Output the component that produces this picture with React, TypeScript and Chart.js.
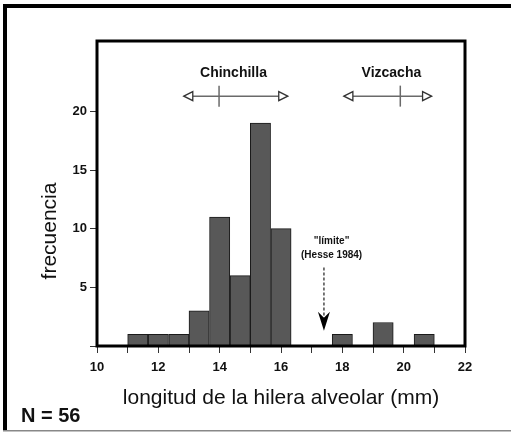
import React, { useEffect, useRef } from "react";
import { Chart, registerables } from "chart.js";

Chart.register(...registerables);

// Histogram bins (bin centres, mm) and counts
const binCenters = [11.33, 12, 12.67, 13.33, 14, 14.67, 15.33, 16, 16.67, 17.33, 18, 18.67, 19.33, 20, 20.67];
const counts = [1, 1, 1, 3, 11, 6, 19, 10, 0, 0, 1, 0, 2, 0, 1];

// Axis ticks
const xTickValues = [10, 11, 12, 13, 14, 15, 16, 17, 18, 19, 20, 21, 22];
const xTickLabels = ["10", "", "12", "", "14", "", "16", "", "18", "", "20", "", "22"];
const yTickValues = [0, 5, 10, 15, 20];
const yTickLabels = ["", "5", "10", "15", "20"];

// Species ranges (annotation)
const rangeLabels = ["Chinchilla", "Vizcacha"];
const rangeLow = [12.83, 18.05];
const rangeMid = [13.98, 19.89];
const rangeHigh = [16.22, 20.91];
const rangeLabelX = [14.45, 19.6];
const rangeLevel = 21.3;
const rangeLabelLevel = 23.3;

// "límite" note
const noteLines = ['"límite"', "(Hesse 1984)"];
const noteX = 17.65;
const noteY = [8.95, 7.75];
const limitX = 17.4;
const limitTop = 6.7;
const limitTip = 1.3;

const xTitle = "longitud de la hilera alveolar (mm)";
const yTitle = "frecuencia";
const nLabel = "N = 56";

const FONT = "'Liberation Sans', Arial, Helvetica, sans-serif";

const decorPlugin = {
  id: "decor",
  beforeDraw(chart: any) {
    const ctx = chart.ctx;
    ctx.save();
    ctx.fillStyle = "#ffffff";
    ctx.fillRect(0, 0, chart.width, chart.height);
    ctx.restore();
  },
  afterDatasetsDraw(chart: any) {
    const ctx = chart.ctx;
    const xs = chart.scales.x;
    const ys = chart.scales.y;
    const a = chart.chartArea;
    ctx.save();

    // plot frame
    ctx.strokeStyle = "#000";
    ctx.lineWidth = 3;
    ctx.strokeRect(a.left, a.top, a.right - a.left, a.bottom - a.top);

    // outer figure frame
    ctx.fillStyle = "#000";
    ctx.fillRect(3, 4, chart.width - 3, 4);
    ctx.fillRect(3, 4, 4, 427);
    ctx.fillStyle = "#888";
    ctx.fillRect(3, 430, chart.width - 3, 1.5);

    // range arrows
    for (let i = 0; i < rangeLabels.length; i++) {
      const y = ys.getPixelForValue(rangeLevel);
      const xl = xs.getPixelForValue(rangeLow[i]);
      const xh = xs.getPixelForValue(rangeHigh[i]);
      const xm = xs.getPixelForValue(rangeMid[i]);
      const ah = 9;
      const hw = 4.5;
      ctx.strokeStyle = "#6a6a6a";
      ctx.lineWidth = 1.5;
      ctx.beginPath();
      ctx.moveTo(xl + ah, y);
      ctx.lineTo(xh - ah, y);
      ctx.stroke();
      ctx.beginPath();
      ctx.moveTo(xm, y - 10.5);
      ctx.lineTo(xm, y + 10.5);
      ctx.stroke();
      ctx.fillStyle = "#fff";
      ctx.strokeStyle = "#333";
      ctx.lineWidth = 1.3;
      ctx.beginPath();
      ctx.moveTo(xl, y);
      ctx.lineTo(xl + ah, y - hw);
      ctx.lineTo(xl + ah, y + hw);
      ctx.closePath();
      ctx.fill();
      ctx.stroke();
      ctx.beginPath();
      ctx.moveTo(xh, y);
      ctx.lineTo(xh - ah, y - hw);
      ctx.lineTo(xh - ah, y + hw);
      ctx.closePath();
      ctx.fill();
      ctx.stroke();

      ctx.fillStyle = "#111";
      ctx.font = `bold 14px ${FONT}`;
      ctx.textAlign = "center";
      ctx.textBaseline = "middle";
      ctx.fillText(rangeLabels[i], xs.getPixelForValue(rangeLabelX[i]), ys.getPixelForValue(rangeLabelLevel));
    }

    // note text
    ctx.fillStyle = "#111";
    ctx.font = `bold 10px ${FONT}`;
    ctx.textAlign = "center";
    ctx.textBaseline = "middle";
    for (let i = 0; i < noteLines.length; i++) {
      ctx.fillText(noteLines[i], xs.getPixelForValue(noteX), ys.getPixelForValue(noteY[i]));
    }

    // dashed limit arrow
    const lx = xs.getPixelForValue(limitX);
    const ly0 = ys.getPixelForValue(limitTop);
    const ly1 = ys.getPixelForValue(limitTip);
    ctx.strokeStyle = "#555";
    ctx.lineWidth = 1.6;
    ctx.setLineDash([3, 2]);
    ctx.beginPath();
    ctx.moveTo(lx, ly0);
    ctx.lineTo(lx, ly1 - 12);
    ctx.stroke();
    ctx.setLineDash([]);
    ctx.fillStyle = "#000";
    ctx.beginPath();
    ctx.moveTo(lx, ly1);
    ctx.lineTo(lx - 6, ly1 - 19);
    ctx.lineTo(lx, ly1 - 13);
    ctx.lineTo(lx + 6, ly1 - 19);
    ctx.closePath();
    ctx.fill();

    // axis titles
    ctx.fillStyle = "#111";
    ctx.font = `21px ${FONT}`;
    ctx.textAlign = "center";
    ctx.textBaseline = "middle";
    ctx.fillText(xTitle, 281, 398);
    ctx.save();
    ctx.translate(50, 231);
    ctx.rotate(-Math.PI / 2);
    ctx.fillText(yTitle, 0, 0);
    ctx.restore();

    // N label
    ctx.font = `bold 20px ${FONT}`;
    ctx.textAlign = "left";
    ctx.fillText(nLabel, 21, 416);

    ctx.restore();
  },
};

export default function App() {
  const ref = useRef<HTMLCanvasElement>(null);
  useEffect(() => {
    if (!ref.current) return;
    const chart = new Chart(ref.current, {
      type: "bar",
      data: {
        datasets: [
          {
            data: binCenters.map((x, i) => ({ x, y: counts[i] })),
            backgroundColor: "#585858",
            borderColor: "#1a1a1a",
            borderWidth: 1,
            barPercentage: 1,
            categoryPercentage: 1,
          },
        ],
      },
      options: {
        animation: false,
        responsive: false,
        maintainAspectRatio: false,
        layout: { padding: { left: 0, top: 41, right: 46, bottom: 0 } },
        plugins: { legend: { display: false }, tooltip: { enabled: false } },
        scales: {
          x: {
            type: "linear",
            min: 10,
            max: 22,
            offset: false,
            afterFit: (s: any) => {
              s.height = 86;
            },
            afterBuildTicks: (s: any) => {
              s.ticks = xTickValues.map((v) => ({ value: v }));
            },
            grid: { drawOnChartArea: false, drawTicks: true, tickLength: 7, tickColor: "#333", offset: false },
            border: { display: false },
            ticks: {
              autoSkip: false,
              maxRotation: 0,
              padding: 7,
              color: "#111",
              font: { family: FONT, size: 13, weight: "bold" },
              callback: (v: any) => {
                const i = xTickValues.indexOf(Number(v));
                return i >= 0 ? xTickLabels[i] : "";
              },
            },
          },
          y: {
            min: 0,
            max: 26,
            afterFit: (s: any) => {
              s.width = 97;
            },
            afterBuildTicks: (s: any) => {
              s.ticks = yTickValues.map((v) => ({ value: v }));
            },
            grid: { drawOnChartArea: false, drawTicks: true, tickLength: 7, tickColor: "#333" },
            border: { display: false },
            ticks: {
              padding: 3,
              color: "#111",
              font: { family: FONT, size: 13, weight: "bold" },
              callback: (v: any) => {
                const i = yTickValues.indexOf(Number(v));
                return i >= 0 ? yTickLabels[i] : "";
              },
            },
          },
        },
      },
      plugins: [decorPlugin],
    } as any);
    return () => chart.destroy();
  }, []);
  return (
    <div style={{ position: "absolute", left: 0, top: 0, width: 511, height: 432 }}>
      <canvas ref={ref} width={511} height={432} style={{ display: "block" }} />
    </div>
  );
}
